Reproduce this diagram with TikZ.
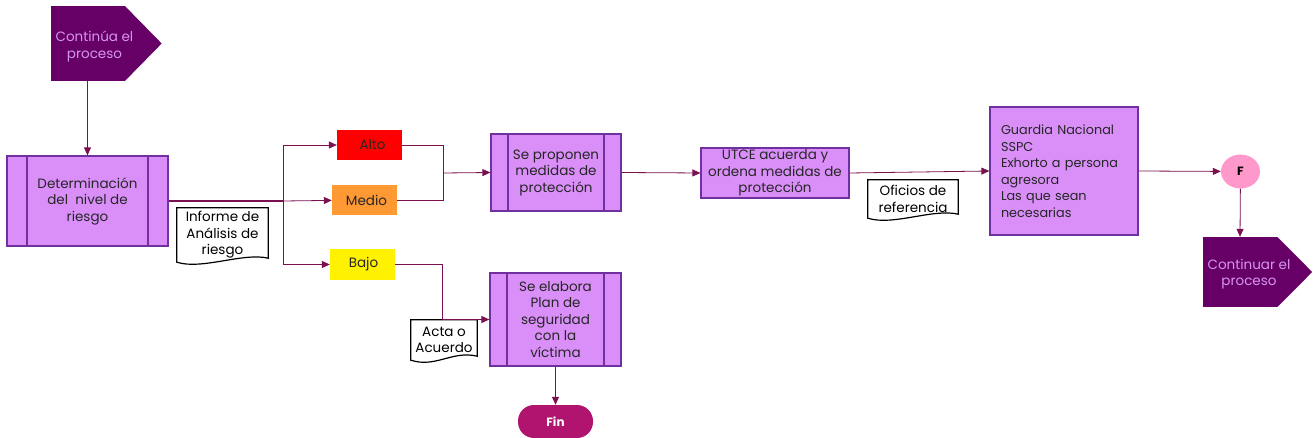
\documentclass[tikz,border=0pt]{standalone}
\usepackage{fontspec}
\setmainfont{Poppins}
\usetikzlibrary{arrows.meta,backgrounds,shapes.geometric}

\definecolor{morado}{RGB}{102,0,102}
\definecolor{lila}{RGB}{217,142,248}
\definecolor{borde}{RGB}{112,48,160}
\definecolor{conector}{RGB}{122,16,80}
\definecolor{textoclaro}{RGB}{214,150,236}
\definecolor{rosa}{RGB}{255,153,204}
\definecolor{finrosa}{RGB}{176,20,110}
\definecolor{naranja}{RGB}{255,153,51}

\tikzset{
  letra/.style={font=\fontsize{13.5}{16.5}\selectfont},
  proceso/.style={letra, draw=borde, line width=1.2pt, fill=lila, inner sep=2pt, align=center, text=black!85},
  subproceso/.style={proceso, path picture={
      \draw[borde, line width=1.2pt] ([xshift=#1]path picture bounding box.north west) -- ([xshift=#1]path picture bounding box.south west);
      \draw[borde, line width=1.2pt] ([xshift=-#1]path picture bounding box.north east) -- ([xshift=-#1]path picture bounding box.south east);}},
  nivel/.style={letra, minimum width=65pt, minimum height=30pt, inner sep=0pt, text=black!85},
  documento/.style={letra, fill=white, inner sep=1pt, align=center, text=black},
  salida/.style={fill=morado, minimum width=74pt, minimum height=#1, inner sep=0pt},
  textosalida/.style={letra, text=textoclaro, align=center},
  flecha/.style={draw=conector, line width=0.8pt, -{Triangle[length=8pt,width=7pt]}},
  linea/.style={draw=conector, line width=0.8pt},
  grueso/.style={draw=conector, line width=2pt}
}

% Borde de documento con la parte de abajo ondulada
\newcommand{\bordedoc}[1]{%
  \draw[line width=1.2pt] (#1.south west) -- (#1.north west) -- (#1.north east) -- ([yshift=4pt]#1.south east)
    .. controls ([xshift=-25pt,yshift=10pt]#1.south east) and ([xshift=25pt,yshift=-8pt]#1.south west) .. (#1.south west) -- cycle;}

\begin{document}
\begin{tikzpicture}[x=1pt,y=-1pt]
\useasboundingbox (0,0) rectangle (1314,438);

% Conector de entrada
\node[salida=75pt] (inicio) at (87.5,43.5) {};
\fill[morado] (inicio.north east) -- ([xshift=37pt]inicio.east) -- (inicio.south east) -- cycle;
\node[textosalida] (inicioT) at ([xshift=7pt,yshift=-3pt]inicio.center) {Continúa el\\proceso};

% Determinacion del nivel
\node[subproceso=20pt, minimum width=161pt, minimum height=90pt] (det) at (87.5,201) {Determinación\\del\ \ nivel de\\riesgo};
\node[documento, minimum width=91pt, minimum height=54pt] (informe) at (222.5,235) {Informe de\\Análisis de\\riesgo};
\bordedoc{informe}

% Niveles de riesgo
\node[nivel, fill=red] (alto) at (369.5,145) {\hspace{6pt}Alto};
\node[nivel, fill=naranja] (medio) at (364.5,200) {\hspace{4pt}Medio};
\node[nivel, fill=yellow, minimum height=31pt] (bajo) at (362.5,264.5) {\hspace{2pt}Bajo};

% Medidas
\node[subproceso=17pt, minimum width=130pt, minimum height=77pt] (propone) at (556,172.5) {Se proponen\\medidas de\\protección};
\node[proceso, minimum width=148pt, minimum height=50pt, inner sep=0pt] (utce) at (775,173) {UTCE acuerda y\\ordena medidas de\\protección};
\node[documento, minimum width=90pt, minimum height=38pt] (oficios) at (913,199) {Oficios de\\referencia};
\bordedoc{oficios}
\node[proceso, minimum width=148pt, minimum height=128pt, text width=126pt, align=left, font=\fontsize{12.8}{16.5}\selectfont] (guardia) at (1064,171) {Guardia Nacional\\SSPC\\Exhorto a persona\\agresora\\Las que sean\\necesarias};
\node[ellipse, fill=rosa, minimum width=39pt, minimum height=34pt, inner sep=0pt, font=\bfseries\fontsize{12}{14}\selectfont] (F) at (1240.5,171.5) {F};

% Conector de salida
\node[salida=70pt] (continuar) at (1240,272) {};
\fill[morado] (continuar.north east) -- ([xshift=35pt]continuar.east) -- (continuar.south east) -- cycle;
\node[textosalida] (continuarT) at ([xshift=9pt,yshift=-2pt]continuar.center) {Continuar el\\proceso};

% Plan de seguridad
\node[subproceso=17pt, minimum width=131pt, minimum height=93pt] (plan) at (555.5,319.5) {Se elabora\\Plan de\\seguridad\\con la\\víctima};
\node[documento, minimum width=66pt, minimum height=40pt] (acta) at (444,340) {Acta o\\Acuerdo};
\bordedoc{acta}
\node[fill=finrosa, rounded corners=16pt, minimum width=75pt, minimum height=33pt, text=white, font=\bfseries\fontsize{12}{14}\selectfont] (fin) at (555.5,421.5) {Fin};

% Conexiones
\coordinate (rama) at (283,201);
\coordinate (union) at (443,173);
\coordinate (codo) at (442,319.5);
\draw[flecha] (inicio.south) -- (det.north);
\draw[grueso] (det.east) -- (rama);
\draw[flecha] (rama) |- (alto);
\draw[flecha] (rama) -- (medio);
\draw[flecha] (rama) |- (bajo);
\draw[linea] (alto.east) -| (union);
\draw[linea] (medio.east) -| (union);
\draw[flecha] (union) -- (propone.west);
\draw[flecha] (bajo.east) -| (codo) -- (plan.west);
\draw[flecha] (propone.east) -- (utce.west);
\draw[flecha] (utce.east) -- (guardia.west);
\draw[flecha] (guardia.east) -- (F);
\draw[flecha] (F) -- (continuar.north);
\draw[flecha] (plan.south) -- (fin.north);

\end{tikzpicture}
\end{document}
